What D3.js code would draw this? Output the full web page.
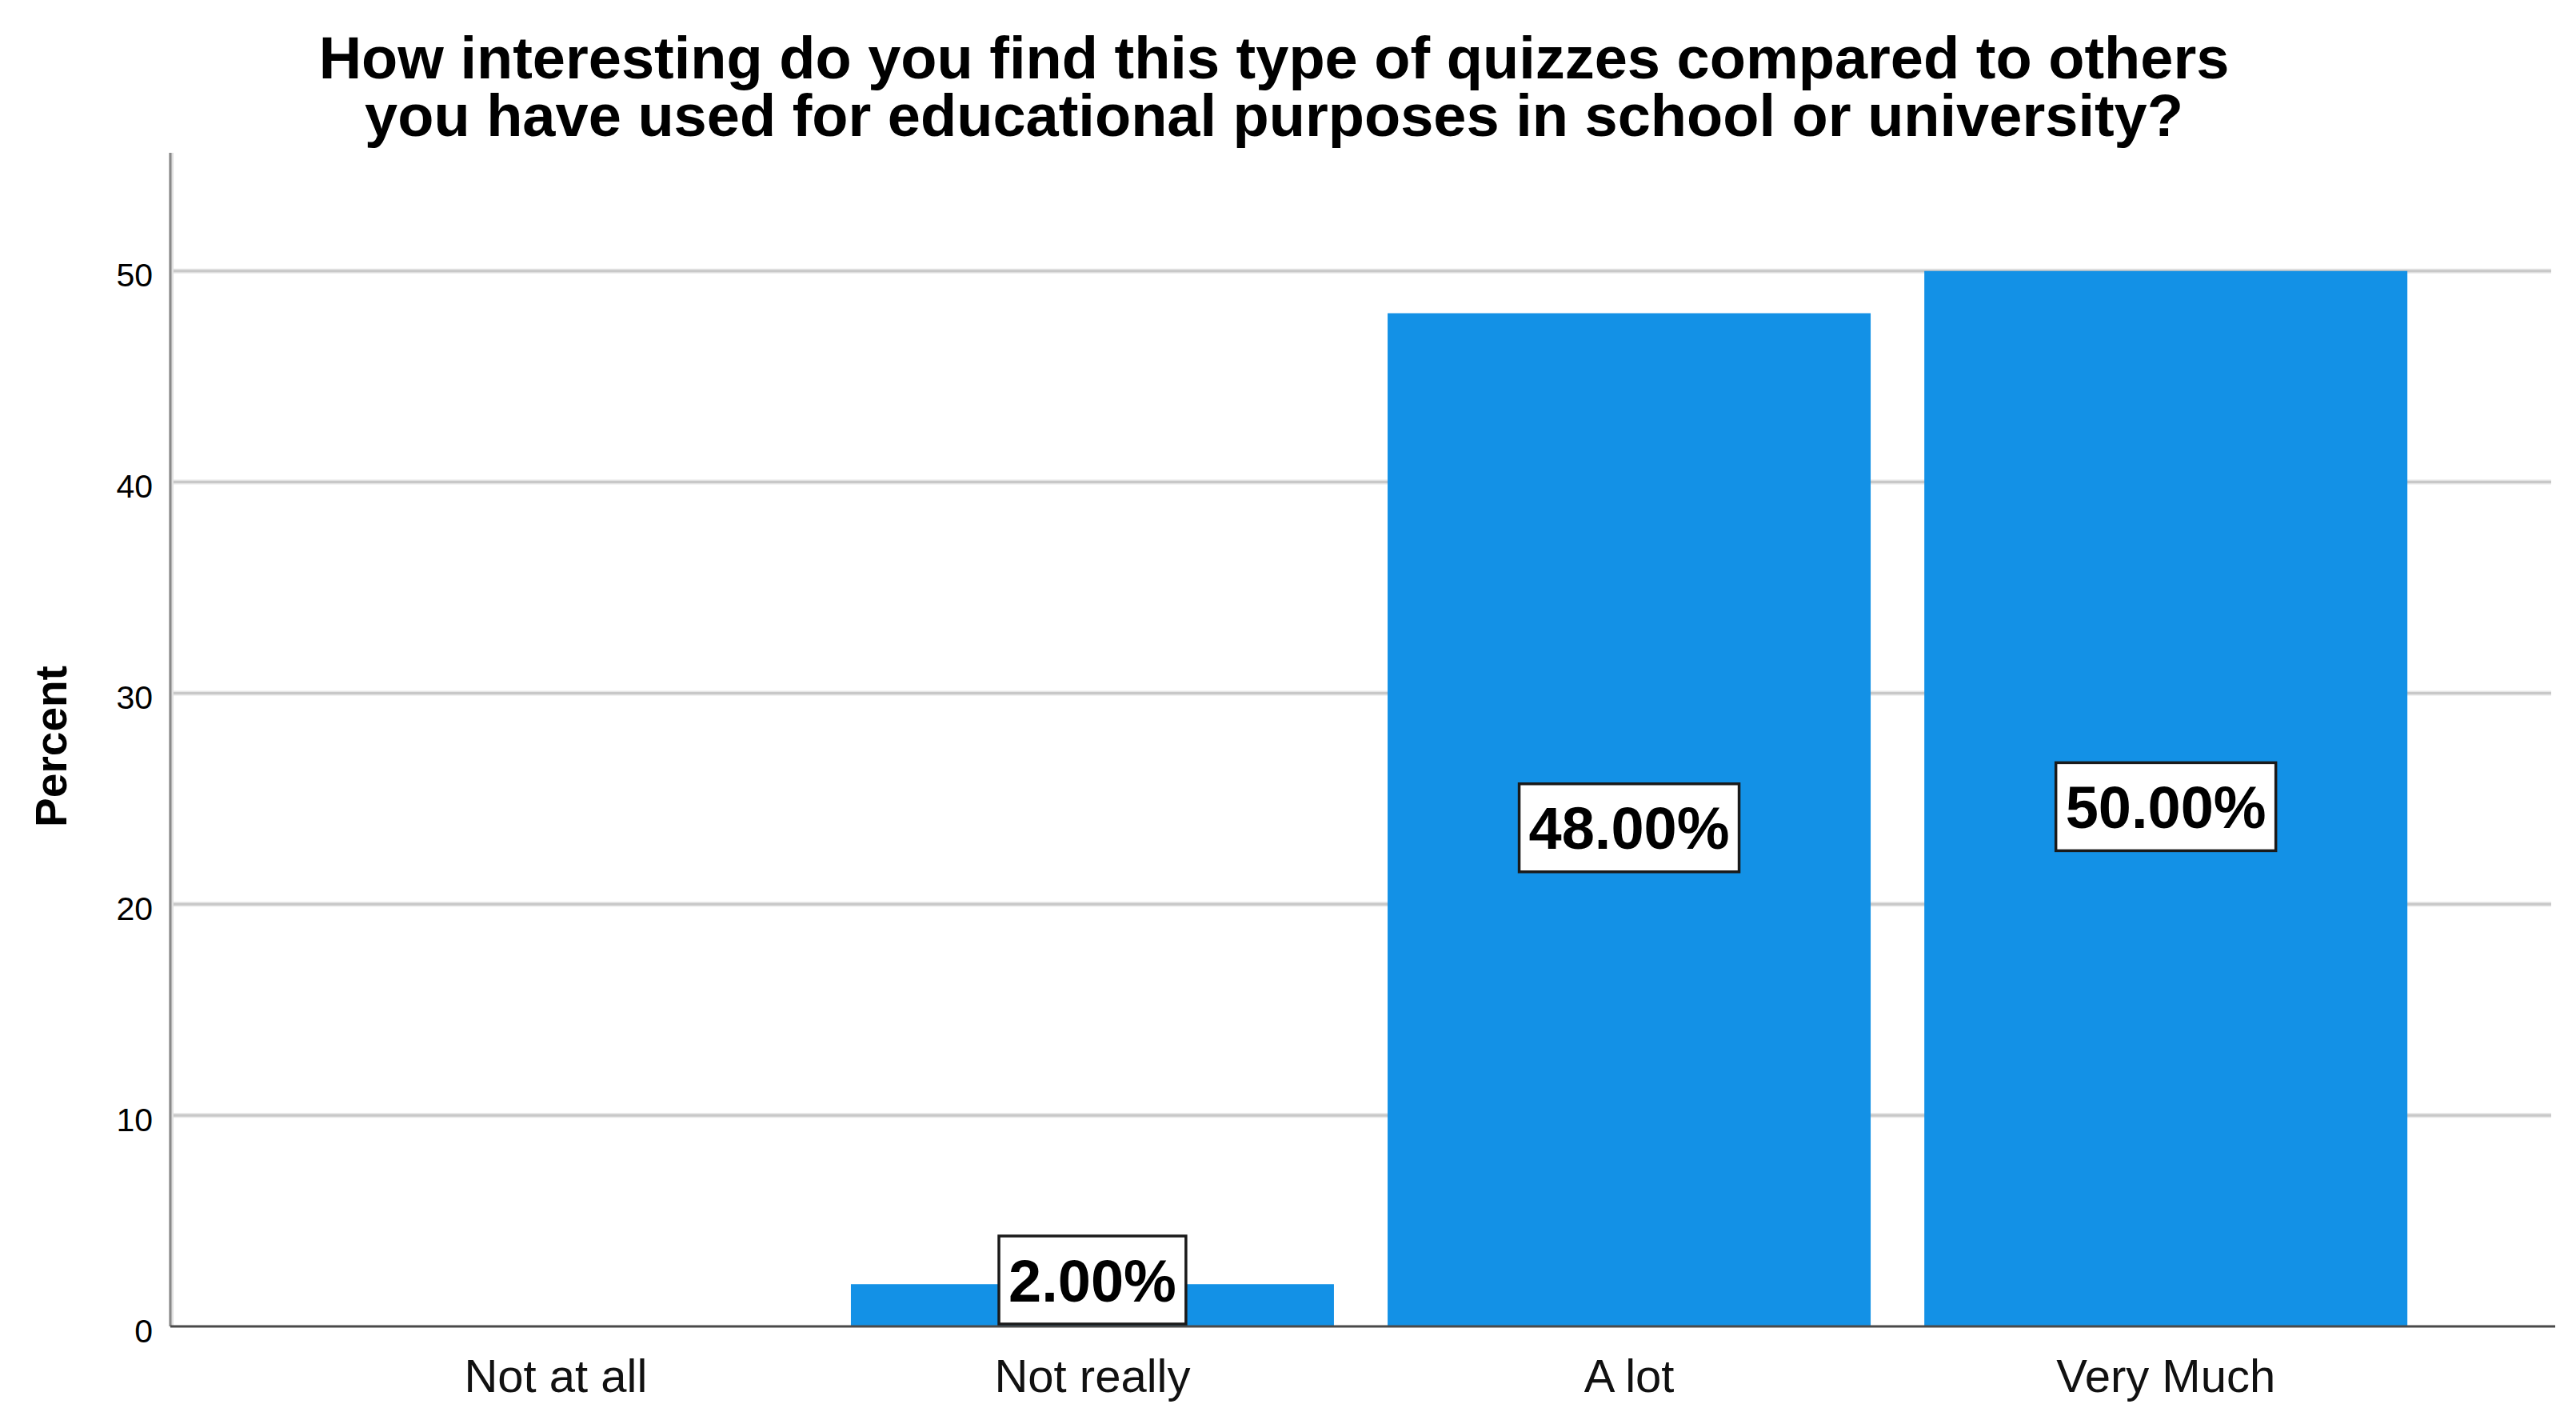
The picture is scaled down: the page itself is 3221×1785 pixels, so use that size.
<!DOCTYPE html>
<html>
<head>
<meta charset="utf-8">
<script src="https://cdn.jsdelivr.net/npm/d3@7"></script>
<style>
html,body{margin:0;padding:0;background:#fff;}
svg{display:block;}
</style>
</head>
<body>
<script>
const categories = ["Not at all", "Not really", "A lot", "Very Much"];
const percents = [0, 2, 48, 50];
const yTicks = [0, 10, 20, 30, 40, 50];
const titleLines = ["How interesting do you find this type of quizzes compared to others",
                    "you have used for educational purposes in school or university?"];
const yTitle = "Percent";

const W = 3221, H = 1785;
const m = {left: 213, right: 3190, top: 191, bottom: 1658};
const FONT = "'Liberation Sans', Arial, sans-serif";

const svg = d3.select("body").append("svg").attr("width", W).attr("height", H)
  .style("font-family", FONT);
svg.append("rect").attr("width", W).attr("height", H).attr("fill", "#fff");

const x = d3.scaleBand().domain(categories).range([m.left, m.right])
  .paddingInner(0.1).paddingOuter(0.268);
const y = d3.scaleLinear().domain([0, 55.6]).range([m.bottom, m.top]);

// gridlines
const grid = svg.append("g");
grid.selectAll("line.halo").data(yTicks.filter(d => d > 0)).join("line")
  .attr("x1", m.left).attr("x2", m.right)
  .attr("y1", d => y(d)).attr("y2", d => y(d))
  .attr("stroke", "#e6e6e6").attr("stroke-width", 6);
grid.selectAll("line.core").data(yTicks.filter(d => d > 0)).join("line")
  .attr("x1", m.left).attr("x2", m.right)
  .attr("y1", d => y(d)).attr("y2", d => y(d))
  .attr("stroke", "#c8c8c8").attr("stroke-width", 3);

// y axis ticks (labels only)
const yAxis = svg.append("g").attr("transform", `translate(${m.left},0)`)
  .call(d3.axisLeft(y).tickValues(yTicks).tickSize(0).tickPadding(22).tickFormat(d3.format("d")));
yAxis.select(".domain").remove();
yAxis.selectAll("text").attr("font-size", 41).attr("font-family", FONT)
  .attr("fill", "#000").attr("dy", "0.32em").attr("transform", "translate(0,6)");

// y axis line
svg.append("line").attr("x1", m.left + 1).attr("x2", m.left + 1).attr("y1", m.top).attr("y2", m.bottom)
  .attr("stroke", "#e0e0e0").attr("stroke-width", 6);
svg.append("line").attr("x1", m.left).attr("x2", m.left).attr("y1", m.top).attr("y2", m.bottom)
  .attr("stroke", "#8a8a8a").attr("stroke-width", 3);

// bars
svg.append("g").selectAll("rect").data(categories).join("rect")
  .attr("x", d => x(d))
  .attr("width", x.bandwidth())
  .attr("y", (d, i) => y(percents[i]))
  .attr("height", (d, i) => y(0) - y(percents[i]))
  .attr("fill", "#1391e6");

// x axis line
svg.append("line").attr("x1", m.left).attr("x2", m.right + 5).attr("y1", m.bottom).attr("y2", m.bottom)
  .attr("stroke", "#4a4a4a").attr("stroke-width", 3);

// x category labels
const xAxis = svg.append("g").attr("transform", `translate(0,${m.bottom})`)
  .call(d3.axisBottom(x).tickSize(0).tickPadding(0));
xAxis.select(".domain").remove();
xAxis.selectAll("text").attr("font-size", 58).attr("font-family", FONT)
  .attr("fill", "#111").attr("dy", null).attr("y", 82);

// value labels
const fmt = d => d.toFixed(2) + "%";
const lab = svg.append("g");
categories.forEach((c, i) => {
  const v = percents[i];
  if (v <= 0) return;
  const cx = x(c) + x.bandwidth() / 2;
  const boxH = 110;
  let cy = (y(v) + y(0)) / 2 + 10;
  cy = Math.min(cy, y(0) - 3 - boxH / 2);
  const g = lab.append("g");
  const t = g.append("text").attr("x", cx).attr("y", cy + 26.5)
    .attr("text-anchor", "middle").attr("font-size", 74).attr("font-weight", "bold")
    .attr("font-family", FONT).attr("fill", "#000").text(fmt(v));
  const tw = t.node().getComputedTextLength();
  const bw = tw + 24;
  g.insert("rect", "text").attr("x", cx - bw / 2).attr("y", cy - boxH / 2)
    .attr("width", bw).attr("height", boxH)
    .attr("fill", "#fff").attr("stroke", "#1a1a1a").attr("stroke-width", 3.5);
});

// title
svg.append("g").selectAll("text").data(titleLines).join("text")
  .attr("x", 1593).attr("y", (d, i) => 98 + i * 72)
  .attr("text-anchor", "middle").attr("font-size", 74).attr("font-weight", "bold")
  .attr("font-family", FONT).attr("fill", "#000").text(d => d);

// y title
svg.append("text").attr("transform", "translate(83,933) rotate(-90)")
  .attr("text-anchor", "middle").attr("font-size", 55).attr("font-weight", "bold")
  .attr("font-family", FONT).attr("fill", "#000").text(yTitle);
</script>
</body>
</html>
